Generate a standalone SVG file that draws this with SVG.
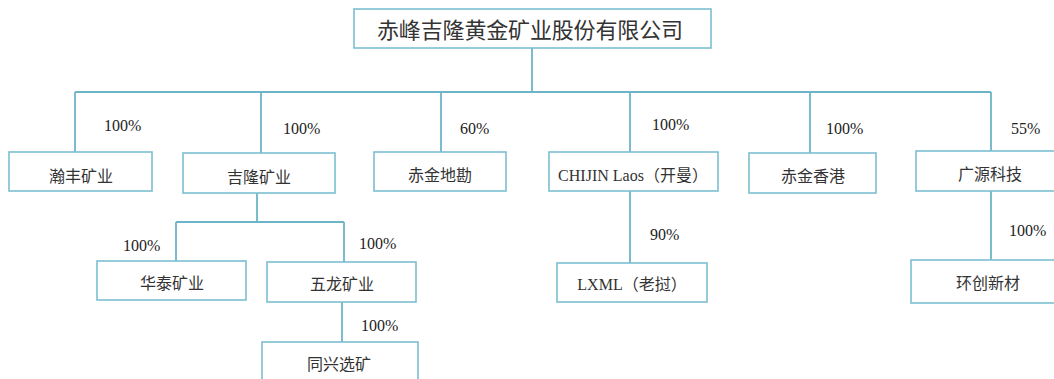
<svg xmlns="http://www.w3.org/2000/svg" width="1054" height="379" viewBox="0 0 1054 379">
<style>
.box{fill:#fff;stroke:#7cbfd1;stroke-width:1.6}
.ln{fill:none;stroke:#6db4c8;stroke-width:1.8}
.t{font-family:"Liberation Serif","Noto Sans CJK SC",serif;font-size:16px;fill:#333;text-anchor:middle;dominant-baseline:central}
.p{font-family:"Liberation Serif",serif;font-size:16px;fill:#222}
.title{font-family:"Liberation Serif","Noto Sans CJK SC",serif;font-size:22px;fill:#333;dominant-baseline:central}
</style>
<rect width="1054" height="379" fill="#fff"/>
<g id="connectors">
<path class="ln" d="M532,48V92M75,92H991M75,92V152M261,92V153M441,92V152M630,92V152M810,92V153M991,92V151"/>
<path class="ln" d="M257,192V222M176,222H344M176,222V261M344,222V262M342,302V342"/>
<path class="ln" d="M630,191V263M991,191V260"/>
</g>
<g id="percent-labels">
<text class="p" x="104" y="131">100%</text>
<text class="p" x="283" y="134">100%</text>
<text class="p" x="460" y="134">60%</text>
<text class="p" x="652" y="130">100%</text>
<text class="p" x="826" y="134">100%</text>
<text class="p" x="1011" y="134">55%</text>
<text class="p" x="123" y="251">100%</text>
<text class="p" x="359" y="249">100%</text>
<text class="p" x="361" y="331">100%</text>
<text class="p" x="650" y="240">90%</text>
<text class="p" x="1009" y="236">100%</text>
</g>
<g id="n-root"><rect class="box" x="354" y="9" width="357" height="39"/><text class="title" x="377" y="30" textLength="306" lengthAdjust="spacing">赤峰吉隆黄金矿业股份有限公司</text></g>
<g id="n-hanfeng"><rect class="box" x="9" y="152" width="143" height="39"/><text class="t" x="81" y="176">瀚丰矿业</text></g>
<g id="n-jilong"><rect class="box" x="183" y="153" width="152" height="40"/><text class="t" x="259" y="177">吉隆矿业</text></g>
<g id="n-chijin-dikan"><rect class="box" x="374" y="152" width="132" height="39"/><text class="t" x="440" y="175">赤金地勘</text></g>
<g id="n-chijin-laos"><rect class="box" x="549" y="152" width="169" height="39"/><text class="t" x="633" y="175">CHIJIN Laos（开曼）</text></g>
<g id="n-chijin-hk"><rect class="box" x="749" y="153" width="127" height="40"/><text class="t" x="813" y="176">赤金香港</text></g>
<g id="n-guangyuan"><rect class="box" x="916" y="151" width="148" height="40"/><text class="t" x="990" y="174">广源科技</text></g>
<g id="n-huatai"><rect class="box" x="97" y="261" width="149" height="39"/><text class="t" x="172" y="283">华泰矿业</text></g>
<g id="n-wulong"><rect class="box" x="267" y="262" width="149" height="40"/><text class="t" x="342" y="284">五龙矿业</text></g>
<g id="n-tongxing"><rect class="box" x="262" y="342" width="156" height="45"/><text class="t" x="339" y="364">同兴选矿</text></g>
<g id="n-lxml"><rect class="box" x="557" y="263" width="150" height="39"/><text class="t" x="632" y="284">LXML（老挝）</text></g>
<g id="n-huanchuang"><rect class="box" x="911" y="260" width="155" height="43"/><text class="t" x="988" y="283">环创新材</text></g>
</svg>
